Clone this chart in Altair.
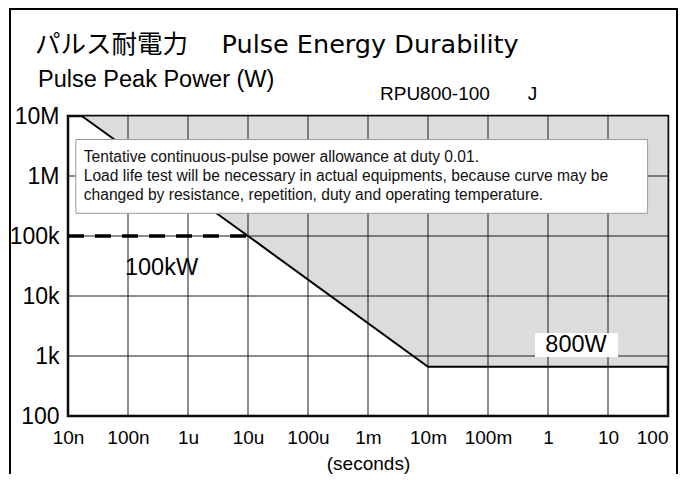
import altair as alt
import pandas as pd

# ---------------- data ----------------
x_ticks = [1e-8, 1e-7, 1e-6, 1e-5, 1e-4, 1e-3, 1e-2, 1e-1, 1, 10, 100]
x_labels = ["10n", "100n", "1u", "10u", "100u", "1m", "10m", "100m", "1", "10", "100"]
y_ticks = [1e2, 1e3, 1e4, 1e5, 1e6, 1e7]
y_labels = ["100", "1k", "10k", "100k", "1M", "10M"]

# allowable pulse power curve (seconds, watts)
curve_t = [1.7e-8, 1e-5, 1e-2, 100]
curve_p = [1e7, 1e5, 660, 660]

# 100 kW dashed limit
dash_t = [1e-8, 1e-5]
dash_p = [1e5, 1e5]

# note box
note_lines = [
    "Tentative continuous-pulse power allowance at duty 0.01.",
    "Load life test will be necessary in actual equipments, because curve may be",
    "changed by resistance, repetition, duty and operating temperature.",
]
note_box_t = [1.35e-8, 45.7]
note_box_p = [2.39e5, 4.05e6]
note_text_t = 1.83e-8
note_text_p = [2.05e6, 9.9e5, 4.77e5]

# labels
label_100k = "100kW"
label_100k_t, label_100k_p = 8.9e-8, 2.93e4
label_800 = "800W"
label_800_box_t = [0.607, 14.7]
label_800_box_p = [962, 2416]
label_800_t, label_800_p = 2.93, 1525

title_text = "パルス耐電力　 Pulse Energy Durability"
ylabel_text = "Pulse Peak Power (W)"
model_text = "RPU800-100　　J"
xlabel_text = "(seconds)"

FONT = "Liberation Sans"

# ---------------- encodings ----------------
xs = alt.Scale(type="log", domain=[1e-8, 100])
ys = alt.Scale(type="log", domain=[1e2, 1e7])
x_expr = "[" + ",".join("'%s'" % s for s in x_labels) + "][round(log(datum.value)/LN10)+8]"
y_expr = "[" + ",".join("'%s'" % s for s in y_labels) + "][round(log(datum.value)/LN10)-2]"

xaxis = alt.Axis(values=x_ticks, labelExpr=x_expr, ticks=False, domain=False, grid=False,
                 labelFontSize=19, labelFont=FONT, labelColor="black", labelPadding=12,
                 labelOverlap=False, labelFlush=False,
                 labelAlign={"condition": {"test": "datum.value >= 99", "value": "right"},
                             "value": "center"},
                 titleFontSize=19, titleFont=FONT, titleFontWeight="normal", titleColor="black",
                 titlePadding=7)
yaxis = alt.Axis(values=y_ticks, labelExpr=y_expr, ticks=False, domain=False, grid=False,
                 labelFontSize=23, labelFont=FONT, labelColor="black", labelPadding=9,
                 labelOverlap=False, labelFlush=False)


def X(f):
    return alt.X(f, type="quantitative", scale=xs, axis=xaxis, title=xlabel_text)


def Y(f):
    return alt.Y(f, type="quantitative", scale=ys, axis=yaxis, title=None)


curve_df = pd.DataFrame({"t": curve_t, "p": curve_p})
dash_df = pd.DataFrame({"t": dash_t, "p": dash_p})
xt_df = pd.DataFrame({"t": x_ticks})
yt_df = pd.DataFrame({"p": y_ticks})
note_box_df = pd.DataFrame({"t": [note_box_t[0]], "t2": [note_box_t[1]],
                            "p": [note_box_p[0]], "p2": [note_box_p[1]]})
note_df = pd.DataFrame({"t": [note_text_t] * 3, "p": note_text_p, "txt": note_lines})
l100_df = pd.DataFrame({"t": [label_100k_t], "p": [label_100k_p], "txt": [label_100k]})
b800_df = pd.DataFrame({"t": [label_800_box_t[0]], "t2": [label_800_box_t[1]],
                        "p": [label_800_box_p[0]], "p2": [label_800_box_p[1]]})
l800_df = pd.DataFrame({"t": [label_800_t], "p": [label_800_p], "txt": [label_800]})
hdr_df = pd.DataFrame({"txt": [title_text]})

area = alt.Chart(curve_df).mark_area(color="#dcdcdc").encode(x=X("t"), y=Y("p"), y2=alt.datum(1e7))
vgrid = alt.Chart(xt_df).mark_rule(color="#1a1a1a", strokeWidth=1).encode(x=X("t"))
hgrid = alt.Chart(yt_df).mark_rule(color="#1a1a1a", strokeWidth=1).encode(y=Y("p"))
line = alt.Chart(curve_df).mark_line(color="black", strokeWidth=2).encode(x=X("t"), y=Y("p"))
dash = alt.Chart(dash_df).mark_line(color="black", strokeWidth=3.5, strokeDash=[16, 11]).encode(
    x=X("t"), y=Y("p"))
nbox = alt.Chart(note_box_df).mark_rect(fill="white", stroke="#9a9a9a", strokeWidth=1).encode(
    x=X("t"), x2="t2", y=Y("p"), y2="p2")
ntext = alt.Chart(note_df).mark_text(align="left", baseline="middle", font=FONT, fontSize=15.6,
                                     color="#111111").encode(x=X("t"), y=Y("p"), text="txt")
t100 = alt.Chart(l100_df).mark_text(align="left", baseline="middle", font=FONT, fontSize=23.5,
                                    color="black").encode(x=X("t"), y=Y("p"), text="txt")
b800 = alt.Chart(b800_df).mark_rect(fill="white").encode(x=X("t"), x2="t2", y=Y("p"), y2="p2")
t800 = alt.Chart(l800_df).mark_text(align="center", baseline="middle", font=FONT, fontSize=23.5,
                                    color="black").encode(x=X("t"), y=Y("p"), text="txt")

frame = alt.Chart(hdr_df).mark_rect(filled=False, stroke="black", strokeWidth=2).encode(
    x=alt.value(-58), x2=alt.value(609), y=alt.value(-107), y2=alt.value(420))
title = alt.Chart(hdr_df).mark_text(align="left", baseline="alphabetic",
                                    font="DejaVu Sans, Noto Sans CJK JP",
                                    fontSize=25.5, color="black").encode(
    x=alt.value(-33), y=alt.value(-63), text=alt.value(title_text))
ylab = alt.Chart(hdr_df).mark_text(align="left", baseline="alphabetic", font=FONT,
                                   fontSize=23.5, color="black").encode(
    x=alt.value(-30), y=alt.value(-29), text=alt.value(ylabel_text))
model = alt.Chart(hdr_df).mark_text(align="left", baseline="alphabetic", font=FONT,
                                    fontSize=19, color="black").encode(
    x=alt.value(312), y=alt.value(-16), text=alt.value(model_text))

chart = alt.layer(area, vgrid, hgrid, line, dash, nbox, ntext, t100, b800, t800,
                  frame, title, ylab, model).properties(
    width=600, height=300,
    autosize=alt.AutoSizeParams(type="none"),
    padding={"left": 60, "top": 108, "right": 10, "bottom": 58},
).configure_view(stroke="black", strokeWidth=2.5)

chart.save("out.html", embed_options={"renderer": "svg", "actions": False})
